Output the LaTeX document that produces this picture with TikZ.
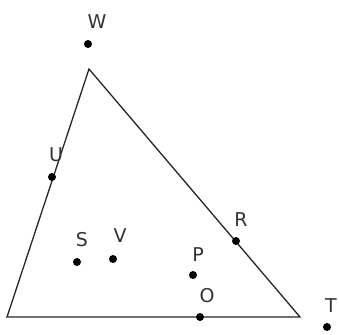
\documentclass[tikz,border=0pt]{standalone}
\usepackage{fontspec}
\setmainfont{DejaVu Sans}
\begin{document}
\begin{tikzpicture}[x=1pt,y=-1pt,
  pt/.style={circle,fill=black,inner sep=0pt,minimum size=8pt},
  lbl/.style={inner sep=0pt,font=\fontsize{19}{19}\selectfont,text=black!80}]
\useasboundingbox (0,0) rectangle (339,334);
\coordinate (A) at (89,69);
\coordinate (B) at (7,317);
\coordinate (C) at (300,317);
\draw[line width=1.3pt,black!85] (A) -- (B) -- (C) -- cycle;
\node[pt] (W) at (88,44) {};
\node[pt] (U) at (52,177) {};
\node[pt] (S) at (77,262) {};
\node[pt] (V) at (113,259) {};
\node[pt] (R) at (236,241) {};
\node[pt] (P) at (193,275) {};
\node[pt] (O) at (200,317) {};
\node[pt] (T) at (327,327) {};
\node[lbl] (lW) at (97,22) {W};
\node[lbl] (lU) at (56,155) {U};
\node[lbl] (lS) at (82,240) {S};
\node[lbl] (lV) at (120,236) {V};
\node[lbl] (lR) at (241,220) {R};
\node[lbl] (lP) at (198,255) {P};
\node[lbl] (lO) at (207,296) {O};
\node[lbl] (lT) at (331,306) {T};
\end{tikzpicture}
\end{document}
